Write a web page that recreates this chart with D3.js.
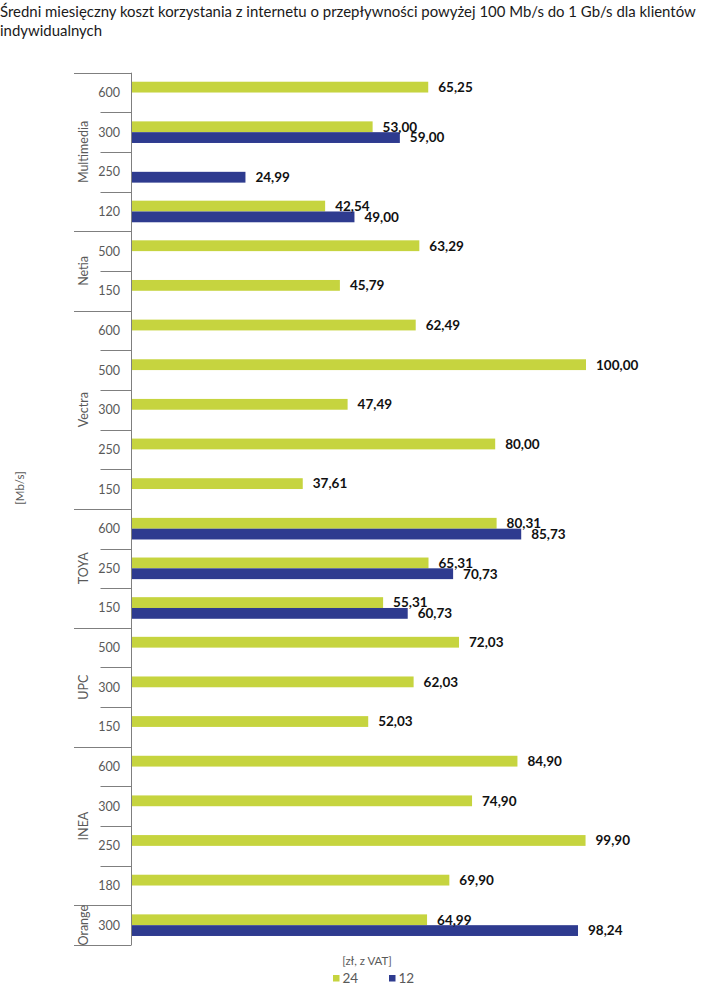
<!DOCTYPE html>
<html><head><meta charset="utf-8">
<script src="https://cdn.jsdelivr.net/npm/d3@7/dist/d3.min.js"></script>
<style>body{margin:0;background:#fff}svg{display:block}</style>
</head><body><svg id="c" width="701" height="985"></svg>
<script>
const titleLines = ["Średni miesięczny koszt korzystania z internetu o przepływności powyżej 100 Mb/s do 1 Gb/s dla klientów","indywidualnych"];
const groups = ["Multimedia","Netia","Vectra","TOYA","UPC","INEA","Orange"];
const groupOf = ["Multimedia","Multimedia","Multimedia","Multimedia","Netia","Netia","Vectra","Vectra","Vectra","Vectra","Vectra","TOYA","TOYA","TOYA","UPC","UPC","UPC","INEA","INEA","INEA","INEA","Orange"];
const speeds = ["600","300","250","120","500","150","600","500","300","250","150","600","250","150","500","300","150","600","300","250","180","300"];
const series24 = [65.25,53.00,null,42.54,63.29,45.79,62.49,100.00,47.49,80.00,37.61,80.31,65.31,55.31,72.03,62.03,52.03,84.90,74.90,99.90,69.90,64.99];
const series12 = [null,59.00,24.99,49.00,null,null,null,null,null,null,null,85.73,70.73,60.73,null,null,null,null,null,null,null,98.24];
const seriesNames = ["24","12"];
const colors = ["#c6d43f","#2e3b8f"];
const yTitle = "[Mb/s]";
const xTitle = "[zł, z VAT]";

const svg = d3.select("#c");
const font = "Lato, 'Open Sans', sans-serif";
const t = svg.append("text").attr("font-family",font).attr("font-size",15.5).attr("fill","#1a1a1a");
const spans = titleLines.map((l,i)=>t.append("tspan").attr("x",0).attr("y",17+i*18.5).text(l));
const w0 = spans[0].node().getComputedTextLength();
t.attr("font-size", 15.5*Math.min(1, 696/w0));

const x = d3.scaleLinear().domain([0,100]).range([132,586]);
const idx = d3.range(speeds.length);
const y = d3.scaleBand().domain(idx).range([72.7,945]);
const bh = 10.8;
const axisX = 131.5;

const g = svg.append("g");
[series24, series12].forEach((s,si)=>{
  const rows = idx.filter(i=>s[i]!=null);
  g.selectAll(null).data(rows).join("rect")
    .attr("x",x(0)).attr("width",i=>x(s[i])-x(0))
    .attr("y",i=>y(i)+y.bandwidth()/2-(si===0?bh:0)).attr("height",bh)
    .attr("fill",colors[si]);
});
[series24, series12].forEach((s,si)=>{
  const rows = idx.filter(i=>s[i]!=null);
  g.selectAll(null).data(rows).join("text")
    .attr("x",i=>x(s[i])+10)
    .attr("y",i=>y(i)+y.bandwidth()/2+(si===0?-bh/2:bh/2))
    .attr("dy","0.36em")
    .attr("font-family",font).attr("font-weight","bold").attr("font-size",13.5).attr("fill","#111")
    .text(i=>d3.format(".2f")(s[i]).replace(".",","));
});
const axisG = svg.append("g").attr("stroke","#7f7f7f").attr("stroke-width",1);
axisG.append("line").attr("x1",axisX).attr("x2",axisX).attr("y1",y.range()[0]).attr("y2",y.range()[1]);
const bounds = [];
idx.forEach(i=>{ if(i===0 || groupOf[i]!==groupOf[i-1]) bounds.push(i); });
idx.concat([speeds.length]).forEach(i=>{
  const yy = i<speeds.length ? y(i) : y.range()[1];
  const isGroup = i===speeds.length || bounds.includes(i);
  axisG.append("line").attr("x1",isGroup?74:100.5).attr("x2",axisX).attr("y1",Math.round(yy)+0.5).attr("y2",Math.round(yy)+0.5);
});
svg.append("g").selectAll("text").data(idx).join("text")
  .attr("x",120).attr("y",i=>y(i)+y.bandwidth()/2).attr("dy","0.36em").attr("text-anchor","end")
  .attr("font-family",font).attr("font-size",12.5).attr("fill","#595959").text(i=>speeds[i]);
groups.forEach(gr=>{
  const rows = idx.filter(i=>groupOf[i]===gr);
  const cy = (y(rows[0]) + y(rows[rows.length-1])+y.bandwidth())/2;
  svg.append("text").attr("transform",`translate(83,${cy}) rotate(-90)`).attr("text-anchor","middle").attr("dy","0.36em")
    .attr("font-family",font).attr("font-size",12.5).attr("fill","#595959").text(gr);
});
svg.append("text").attr("transform","translate(20,488) rotate(-90)").attr("text-anchor","middle").attr("dy","0.36em")
  .attr("font-family",font).attr("font-size",11.5).attr("fill","#595959").text(yTitle);
svg.append("text").attr("x",367).attr("y",961).attr("dy","0.36em").attr("text-anchor","middle")
  .attr("font-family",font).attr("font-size",11.5).attr("fill","#595959").text(xTitle);
const lg = svg.append("g");
const lx = [333,389];
seriesNames.forEach((n,i)=>{
  lg.append("rect").attr("x",lx[i]).attr("y",975).attr("width",6.5).attr("height",6.5).attr("fill",colors[i]);
  lg.append("text").attr("x",lx[i]+9.5).attr("y",982.5).attr("font-family",font).attr("font-size",13.5).attr("fill","#595959").text(n);
});
</script></body></html>
